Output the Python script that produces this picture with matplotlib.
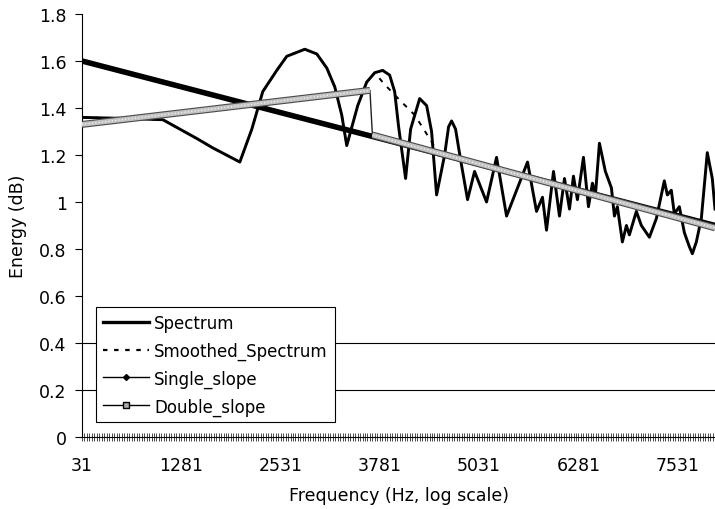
import matplotlib
matplotlib.use("Agg")
import matplotlib.pyplot as plt
from matplotlib.lines import Line2D
from matplotlib.ticker import MultipleLocator

plt.rcParams["font.family"] = ["DejaVu Sans"]

# spectrum (Hz, dB)
spec_hz = [31, 635, 1050, 1477, 1679, 2018, 2169, 2307, 2483, 2609, 2836, 2987,
           3113, 3213, 3301, 3364, 3502, 3615, 3716, 3816, 3904, 3967, 4017,
           4105, 4168, 4282, 4370, 4432, 4495, 4596, 4646, 4684, 4734, 4797,
           4885, 4973, 5124, 5250, 5376, 5514, 5640, 5753, 5828, 5879, 5967,
           6042, 6105, 6168, 6218, 6268, 6344, 6407, 6457, 6495, 6545, 6620,
           6696, 6734, 6771, 6834, 6885, 6922, 7010, 7073, 7174, 7262, 7362,
           7400, 7450, 7488, 7551, 7614, 7677, 7715, 7765, 7828, 7903, 7966, 8000]
spec_db = [1.36, 1.355, 1.35, 1.27, 1.23, 1.17, 1.31, 1.47, 1.56, 1.62, 1.65, 1.63,
           1.57, 1.49, 1.37, 1.24, 1.41, 1.51, 1.55, 1.56, 1.54, 1.47, 1.32,
           1.10, 1.31, 1.44, 1.41, 1.30, 1.03, 1.20, 1.32, 1.345, 1.31, 1.18,
           1.01, 1.13, 1.00, 1.19, 0.94, 1.06, 1.17, 0.96, 1.02, 0.88, 1.13,
           0.94, 1.10, 0.97, 1.11, 1.01, 1.19, 0.98, 1.08, 1.03, 1.25, 1.13,
           1.06, 0.94, 0.98, 0.83, 0.90, 0.86, 0.96, 0.90, 0.85, 0.93, 1.09,
           1.03, 1.05, 0.95, 0.98, 0.87, 0.81, 0.78, 0.83, 0.93, 1.21, 1.10, 0.97]

# smoothed spectrum: same as spectrum up to the 3.7 kHz peak, then its own tail
smooth_tail_hz = [3841, 4042, 4220, 4500, 4684, 8000]
smooth_tail_db = [1.50, 1.43, 1.37, 1.22, 1.19, 0.89]

single_hz = [31.25, 8000]
single_db = [1.60, 0.90]

double_hz = [31.25, 3656, 3687, 8000]
double_db = [1.33, 1.475, 1.285, 0.89]

grid_levels = [0.2, 0.4]
tick_hz = [31.25, 1281.25, 2531.25, 3781.25, 5031.25, 6281.25, 7531.25]
tick_labels = ["31", "1281", "2531", "3781", "5031", "6281", "7531"]

n_head = spec_hz.index(3816)
smooth_hz = spec_hz[:n_head] + smooth_tail_hz
smooth_db = spec_db[:n_head] + smooth_tail_db

fig = plt.figure(figsize=(7.15, 5.1), dpi=100)
ax = fig.add_axes([0.1147, 0.1412, 0.8853, 0.8294])

for lv in grid_levels:
    ax.axhline(lv, color="black", lw=0.8, zorder=1)

ax.plot(spec_hz, spec_db, color="black", lw=2.1, zorder=3, solid_joinstyle="round")
ax.plot(smooth_hz, smooth_db, color="black", lw=1.4, dashes=(2.5, 3.5), zorder=4)
ax.plot(single_hz, single_db, color="black", lw=4.0, zorder=5)

# double slope: thin connecting line plus the dense-marker band on both segments
ax.plot(double_hz, double_db, color="#222222", lw=1.0, zorder=6)
for seg in (slice(0, 2), slice(2, 4)):
    ax.plot(double_hz[seg], double_db[seg], color="#4a4a4a", lw=5.0, zorder=6,
            solid_capstyle="butt")
    ax.plot(double_hz[seg], double_db[seg], color="#c2c2c2", lw=3.4, zorder=7,
            solid_capstyle="butt")
    ax.plot(double_hz[seg], double_db[seg], color="#f6f6f6", lw=1.0, zorder=8,
            dashes=(0.8, 1.6))

ax.set_xlim(31.25, 8000)
ax.set_ylim(0, 1.8)
ax.set_yticks([0, 0.2, 0.4, 0.6, 0.8, 1.0, 1.2, 1.4, 1.6, 1.8])
ax.set_yticklabels(["0", "0.2", "0.4", "0.6", "0.8", "1", "1.2", "1.4", "1.6", "1.8"])
ax.set_xticks(tick_hz)
ax.set_xticklabels(tick_labels)
ax.xaxis.set_minor_locator(MultipleLocator(31.25))

ax.spines["top"].set_visible(False)
ax.spines["right"].set_visible(False)
ax.spines["left"].set_linewidth(0.8)
ax.spines["bottom"].set_linewidth(0.8)
ax.tick_params(axis="y", direction="out", length=5, width=0.8, pad=6, labelsize=12.5)
ax.tick_params(axis="x", which="major", direction="inout", length=6, width=0.5,
               pad=11, labelsize=12.5)
ax.tick_params(axis="x", which="minor", direction="inout", length=6, width=0.5)

ax.set_xlabel("Frequency (Hz, log scale)", fontsize=12.5, labelpad=8)
ax.set_ylabel("Energy (dB)", fontsize=12.5, labelpad=9)

handles = [
    Line2D([], [], color="black", lw=2.4),
    Line2D([], [], color="black", lw=1.6, dashes=(2, 3)),
    Line2D([], [], color="black", lw=1.0, marker="D", ms=3),
    Line2D([], [], color="black", lw=1.0, marker="s", ms=4, mfc="#aaaaaa"),
]
names = ["Spectrum", "Smoothed_Spectrum", "Single_slope", "Double_slope"]
leg = ax.legend(handles, names, loc="lower left", bbox_to_anchor=(0.022, 0.035),
                borderaxespad=0, fontsize=12, handlelength=2.8, handletextpad=0.3,
                labelspacing=0.58, borderpad=0.4, fancybox=False, framealpha=1)
leg.get_frame().set_edgecolor("black")
leg.get_frame().set_linewidth(0.8)
leg.set_zorder(10)

fig.savefig("out.png", dpi=100)
